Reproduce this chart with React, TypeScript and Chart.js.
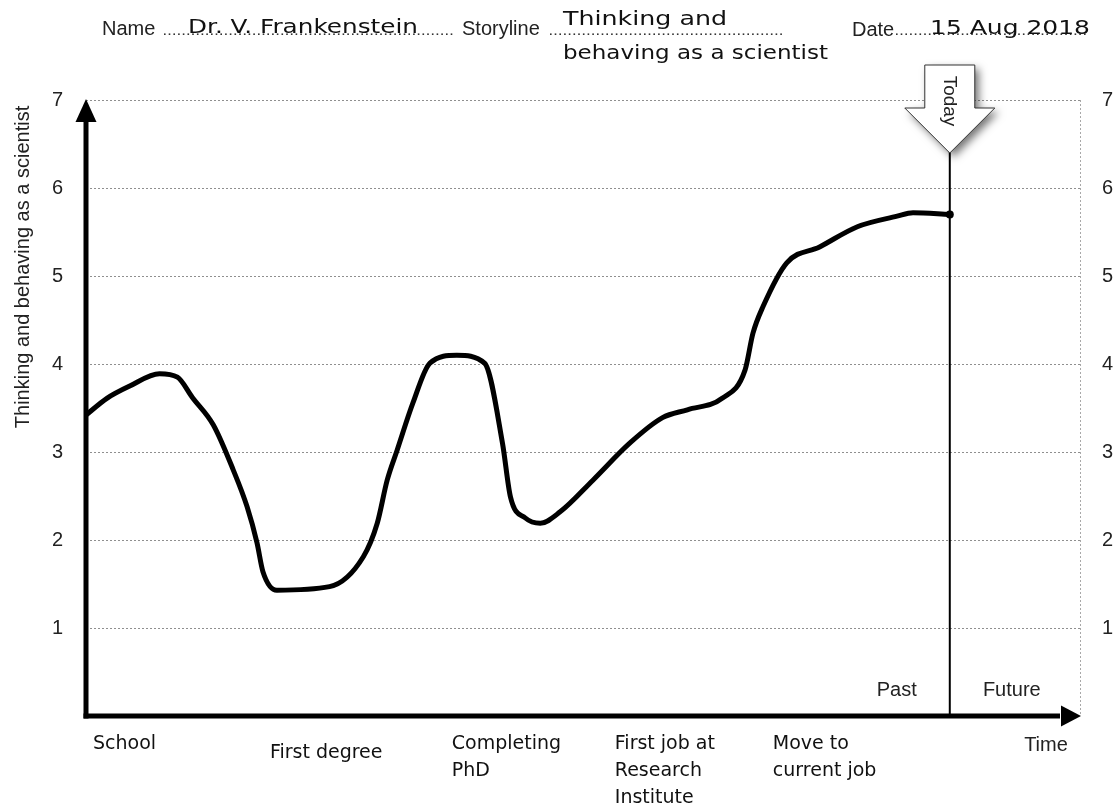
import React, { useEffect, useRef } from 'react';
import { Chart, registerables } from 'chart.js';

Chart.register(...registerables);

// ---- data ----
const timeX = [0, 2.1, 4.4, 7.4, 9.2, 10.7, 12.8, 14.8, 16.2, 17.2, 17.8, 19.2, 24.5, 27.9, 29.3, 30.3, 31.3, 32.9, 34.6, 37.3, 40.1, 41.9, 42.7, 44.2, 45.7, 47.7, 51.0, 54.7, 58.0, 60.5, 64.0, 66.3, 67.1, 68.1, 70.5, 73.8, 77.6, 81.6, 83.2, 86.9];
const score = [3.42, 3.61, 3.75, 3.89, 3.85, 3.62, 3.31, 2.80, 2.38, 1.97, 1.64, 1.43, 1.47, 1.81, 2.19, 2.68, 3.02, 3.56, 4.01, 4.10, 4.01, 3.10, 2.49, 2.25, 2.19, 2.32, 2.68, 3.10, 3.39, 3.48, 3.61, 3.93, 4.35, 4.65, 5.15, 5.33, 5.56, 5.68, 5.72, 5.70];
const milestonePositions = [0.7, 18.5, 36.8, 53.2, 69.1];
const milestoneLabels = [
  ['School'],
  ['First degree'],
  ['Completing', 'PhD'],
  ['First job at', 'Research', 'Institute'],
  ['Move to', 'current job'],
];
const yMin = 0;
const yMax = 7;
const xMin = 0;
const xMax = 100;
const todayX = 86.9;
const yTitle = 'Thinking and behaving as a scientist';
const headerName = 'Dr. V. Frankenstein';
const headerStoryline = ['Thinking and', 'behaving as a scientist'];
const headerDate = '15 Aug 2018';

const SANS = '"Liberation Sans", Arial, sans-serif';
const HAND = '"DejaVu Sans", sans-serif';

function fitText(ctx: CanvasRenderingContext2D, text: string, x: number, y: number, w: number) {
  const m = ctx.measureText(text).width;
  ctx.save();
  ctx.translate(x, y);
  ctx.scale(w / m, 1);
  ctx.textAlign = 'left';
  ctx.fillText(text, 0, 0);
  ctx.restore();
}

function dots(ctx: CanvasRenderingContext2D, a: number, b: number, y: number) {
  ctx.save();
  ctx.fillStyle = '#333';
  for (let x = a; x <= b; x += 4.7) ctx.fillRect(x, y - 1.6, 1.6, 1.6);
  ctx.restore();
}

const decorPlugin = {
  id: 'decor',
  beforeDatasetsDraw(chart: any) {
    const { ctx, chartArea: ca, scales } = chart;
    const tx = scales.x.getPixelForValue(todayX);
    ctx.save();
    ctx.strokeStyle = '#a8a8a8';
    ctx.lineWidth = 1;
    ctx.setLineDash([2, 2]);
    ctx.beginPath();
    ctx.moveTo(ca.right + 0.5, ca.top);
    ctx.lineTo(ca.right + 0.5, ca.bottom);
    ctx.stroke();
    ctx.setLineDash([]);
    ctx.strokeStyle = '#000';
    ctx.lineWidth = 2;
    ctx.beginPath();
    ctx.moveTo(tx, 150);
    ctx.lineTo(tx, ca.bottom);
    ctx.stroke();
    ctx.restore();
  },
  afterDraw(chart: any) {
    const { ctx, chartArea: ca, scales } = chart;
    const tx = scales.x.getPixelForValue(todayX);
    const L = ca.left;
    const B = ca.bottom;
    ctx.save();
    ctx.fillStyle = '#000';
    ctx.strokeStyle = '#000';
    ctx.lineWidth = 5;
    ctx.beginPath();
    ctx.moveTo(L, B + 2.5);
    ctx.lineTo(L, ca.top + 20);
    ctx.stroke();
    ctx.beginPath();
    ctx.moveTo(L, ca.top - 1);
    ctx.lineTo(L - 10.5, ca.top + 22);
    ctx.lineTo(L + 10.5, ca.top + 22);
    ctx.closePath();
    ctx.fill();
    ctx.beginPath();
    ctx.moveTo(L - 2.5, B);
    ctx.lineTo(ca.right - 20, B);
    ctx.stroke();
    ctx.beginPath();
    ctx.moveTo(ca.right + 1, B);
    ctx.lineTo(ca.right - 19, B - 10.5);
    ctx.lineTo(ca.right - 19, B + 10.5);
    ctx.closePath();
    ctx.fill();

    // Today arrow
    ctx.save();
    ctx.beginPath();
    ctx.moveTo(tx - 25, 65);
    ctx.lineTo(tx + 25, 65);
    ctx.lineTo(tx + 25, 108);
    ctx.lineTo(tx + 45, 108);
    ctx.lineTo(tx, 153);
    ctx.lineTo(tx - 45, 108);
    ctx.lineTo(tx - 25, 108);
    ctx.closePath();
    ctx.shadowColor = 'rgba(0,0,0,0.55)';
    ctx.shadowBlur = 9;
    ctx.shadowOffsetX = 4;
    ctx.shadowOffsetY = 4;
    ctx.fillStyle = '#fff';
    ctx.fill();
    ctx.shadowColor = 'transparent';
    ctx.lineWidth = 1;
    ctx.strokeStyle = '#333';
    ctx.stroke();
    ctx.restore();
    ctx.save();
    ctx.translate(tx - 1, 101);
    ctx.rotate(Math.PI / 2);
    ctx.font = `19px ${SANS}`;
    ctx.fillStyle = '#222';
    ctx.textAlign = 'center';
    ctx.textBaseline = 'middle';
    ctx.fillText('Today', 0, 0);
    ctx.restore();

    ctx.font = `20px ${SANS}`;
    ctx.fillStyle = '#222';
    ctx.textAlign = 'center';
    ctx.textBaseline = 'middle';
    ctx.fillText('Past', tx - 53, 690);
    ctx.fillText('Future', tx + 62, 690);
    ctx.fillText('Time', 1046, 745);

    ctx.save();
    ctx.translate(23, 267);
    ctx.rotate(-Math.PI / 2);
    ctx.fillText(yTitle, 0, 0);
    ctx.restore();

    // header
    ctx.textAlign = 'left';
    ctx.textBaseline = 'alphabetic';
    ctx.font = `20px ${SANS}`;
    ctx.fillText('Name', 102, 35);
    ctx.fillText('Storyline', 462, 35);
    ctx.fillText('Date', 852, 36);
    dots(ctx, 164, 452, 35);
    dots(ctx, 550, 785, 35);
    dots(ctx, 896, 1088, 35);
    ctx.fillStyle = '#111';
    ctx.font = `19px ${HAND}`;
    fitText(ctx, headerName, 188, 33, 230);
    ctx.font = `20px ${HAND}`;
    fitText(ctx, headerStoryline[0], 563, 25, 164);
    fitText(ctx, headerStoryline[1], 563, 59, 265);
    ctx.font = `19px ${HAND}`;
    fitText(ctx, headerDate, 930, 34, 160);
    ctx.restore();
  },
};

export default function App() {
  const canvasRef = useRef<HTMLCanvasElement | null>(null);

  useEffect(() => {
    const canvas = canvasRef.current;
    if (!canvas) return;
    const points = timeX.map((x, i) => ({ x, y: score[i] }));
    const chart = new Chart(canvas, {
      type: 'line',
      data: {
        datasets: [
          {
            data: points,
            borderColor: '#000',
            backgroundColor: '#000',
            borderWidth: 5,
            borderCapStyle: 'round',
            borderJoinStyle: 'round',
            cubicInterpolationMode: 'monotone',
            pointRadius: points.map((_, i) => (i === points.length - 1 ? 4 : 0)),
            pointBackgroundColor: '#000',
            pointBorderWidth: 0,
            fill: false,
          },
        ],
      },
      options: {
        animation: false,
        responsive: true,
        maintainAspectRatio: false,
        layout: { padding: { top: 100, left: 0, right: 0, bottom: 0 } },
        plugins: { legend: { display: false }, tooltip: { enabled: false }, title: { display: false } },
        scales: {
          x: {
            type: 'linear',
            min: xMin,
            max: xMax,
            afterBuildTicks: (scale: any) => {
              scale.ticks = milestonePositions.map((v) => ({ value: v }));
            },
            afterFit: (scale: any) => {
              scale.height = 92;
            },
            ticks: {
              autoSkip: false,
              maxRotation: 0,
              minRotation: 0,
              align: 'start',
              padding: 15,
              color: '#111',
              font: (c: any) => ({ family: HAND, size: 19, lineHeight: c.index === 1 ? 2.37 : 1.42 }),
              callback: (_v: any, i: number) => milestoneLabels[i],
            },
            grid: { display: false, drawTicks: false },
            border: { display: false },
          },
          y: {
            position: 'left',
            min: yMin,
            max: yMax,
            afterFit: (scale: any) => {
              scale.width = 86;
            },
            ticks: {
              stepSize: 1,
              padding: 23,
              color: '#222',
              font: { family: SANS, size: 20 },
              callback: (v: any) => (v === 0 ? '' : String(v)),
            },
            grid: {
              drawTicks: false,
              lineWidth: 1,
              color: (c: any) => (c.tick && c.tick.value === 0 ? 'rgba(0,0,0,0)' : '#8f8f8f'),
            },
            border: { display: false, dash: [2, 2] },
          },
          y2: {
            position: 'right',
            min: yMin,
            max: yMax,
            afterFit: (scale: any) => {
              scale.width = 34;
            },
            ticks: {
              stepSize: 1,
              padding: 22,
              color: '#222',
              font: { family: SANS, size: 20 },
              callback: (v: any) => (v === 0 ? '' : String(v)),
            },
            grid: { display: false, drawTicks: false },
            border: { display: false },
          },
        },
      },
      plugins: [decorPlugin],
    } as any);
    return () => chart.destroy();
  }, []);

  return (
    <div style={{ position: 'absolute', left: 0, top: 0, width: 1114, height: 808, background: '#fff' }}>
      <canvas ref={canvasRef} />
    </div>
  );
}
